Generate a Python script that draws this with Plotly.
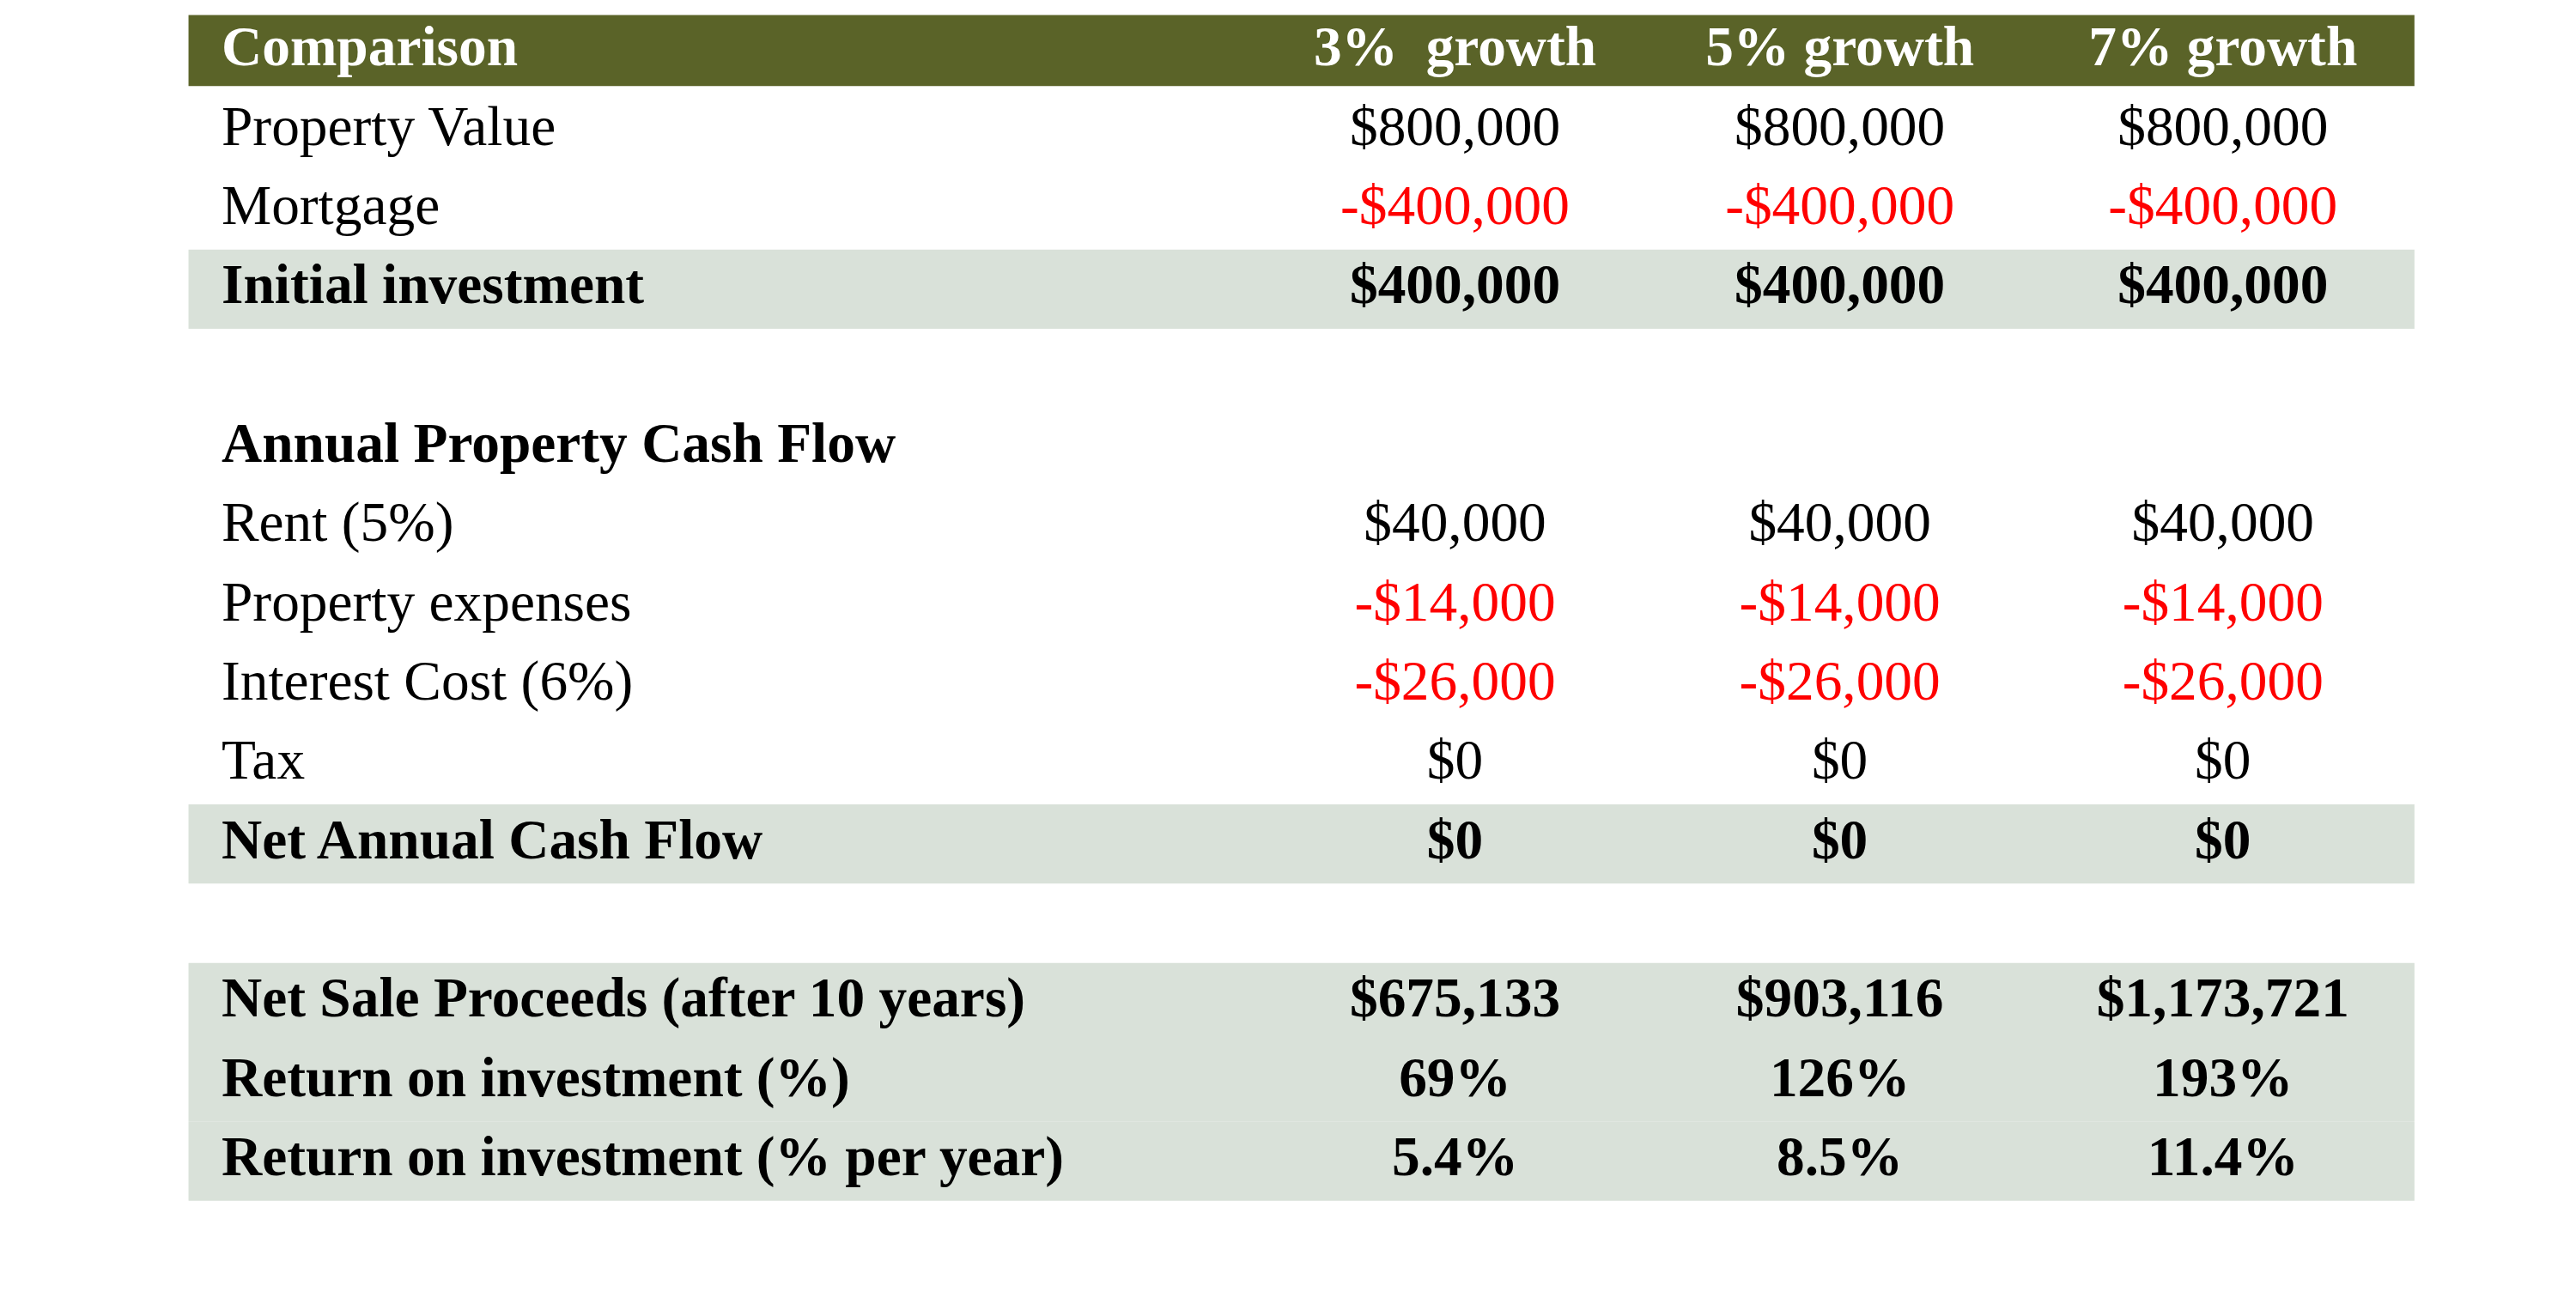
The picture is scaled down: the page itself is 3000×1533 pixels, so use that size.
import plotly.graph_objects as go

headers = ["Comparison", "3%  growth", "5% growth", "7% growth"]
labels = ["Property Value", "Mortgage", "Initial investment", "",
          "Annual Property Cash Flow", "Rent (5%)", "Property expenses",
          "Interest Cost (6%)", "Tax", "Net Annual Cash Flow", "",
          "Net Sale Proceeds (after 10 years)", "Return on investment (%)",
          "Return on investment (% per year)"]
g3 = ["$800,000", "-$400,000", "$400,000", "", "", "$40,000", "-$14,000",
      "-$26,000", "$0", "$0", "", "$675,133", "69%", "5.4%"]
g5 = ["$800,000", "-$400,000", "$400,000", "", "", "$40,000", "-$14,000",
      "-$26,000", "$0", "$0", "", "$903,116", "126%", "8.5%"]
g7 = ["$800,000", "-$400,000", "$400,000", "", "", "$40,000", "-$14,000",
      "-$26,000", "$0", "$0", "", "$1,173,721", "193%", "11.4%"]
bold_rows = [2, 4, 9, 11, 12, 13]
band_rows = [2, 9, 11, 12, 13]

S = 1.923  # display px -> page px
FS = 34 * S
font = "Liberation Serif"
row_y = lambda i: 27 + 48 * i
col_x = [877, 1110, 1342]

fig = go.Figure()
shapes = [dict(type="rect", x0=110, x1=1458, y0=5, y1=48, fillcolor="#5a6328",
               line_width=0, layer="below")]
for r in band_rows:
    y = row_y(r + 1)
    shapes.append(dict(type="rect", x0=110, x1=1458, y0=y - 24, y1=y + 24,
                       fillcolor="#d9e1d9", line_width=0, layer="below"))

def fmt(t, i):
    return "<b>%s</b>" % t if i in bold_rows and t else t

fig.add_trace(go.Scatter(
    x=[130] * len(labels), y=[row_y(i + 1) for i in range(len(labels))],
    text=[fmt(t, i) for i, t in enumerate(labels)], mode="text",
    textposition="middle right", textfont=dict(family=font, size=FS, color="black"),
    hoverinfo="skip"))
for cx, vals in zip(col_x, [g3, g5, g7]):
    fig.add_trace(go.Scatter(
        x=[cx] * len(vals), y=[row_y(i + 1) for i in range(len(vals))],
        text=[fmt(t, i) for i, t in enumerate(vals)], mode="text",
        textposition="middle center",
        textfont=dict(family=font, size=FS,
                      color=["#ff0000" if t.startswith("-") else "black" for t in vals]),
        hoverinfo="skip"))
fig.add_trace(go.Scatter(
    x=[130] + col_x, y=[row_y(0)] * 4, text=["<b>%s</b>" % h for h in headers],
    mode="text", textposition=["middle right"] + ["middle center"] * 3,
    textfont=dict(family=font, size=FS, color="white"), hoverinfo="skip"))

fig.update_layout(
    width=3000, height=1533, margin=dict(l=0, r=0, t=0, b=0),
    paper_bgcolor="white", plot_bgcolor="white", showlegend=False, shapes=shapes,
    xaxis=dict(range=[0, 1560], visible=False, fixedrange=True),
    yaxis=dict(range=[797, 0], visible=False, fixedrange=True))
fig.write_html("out.html")
